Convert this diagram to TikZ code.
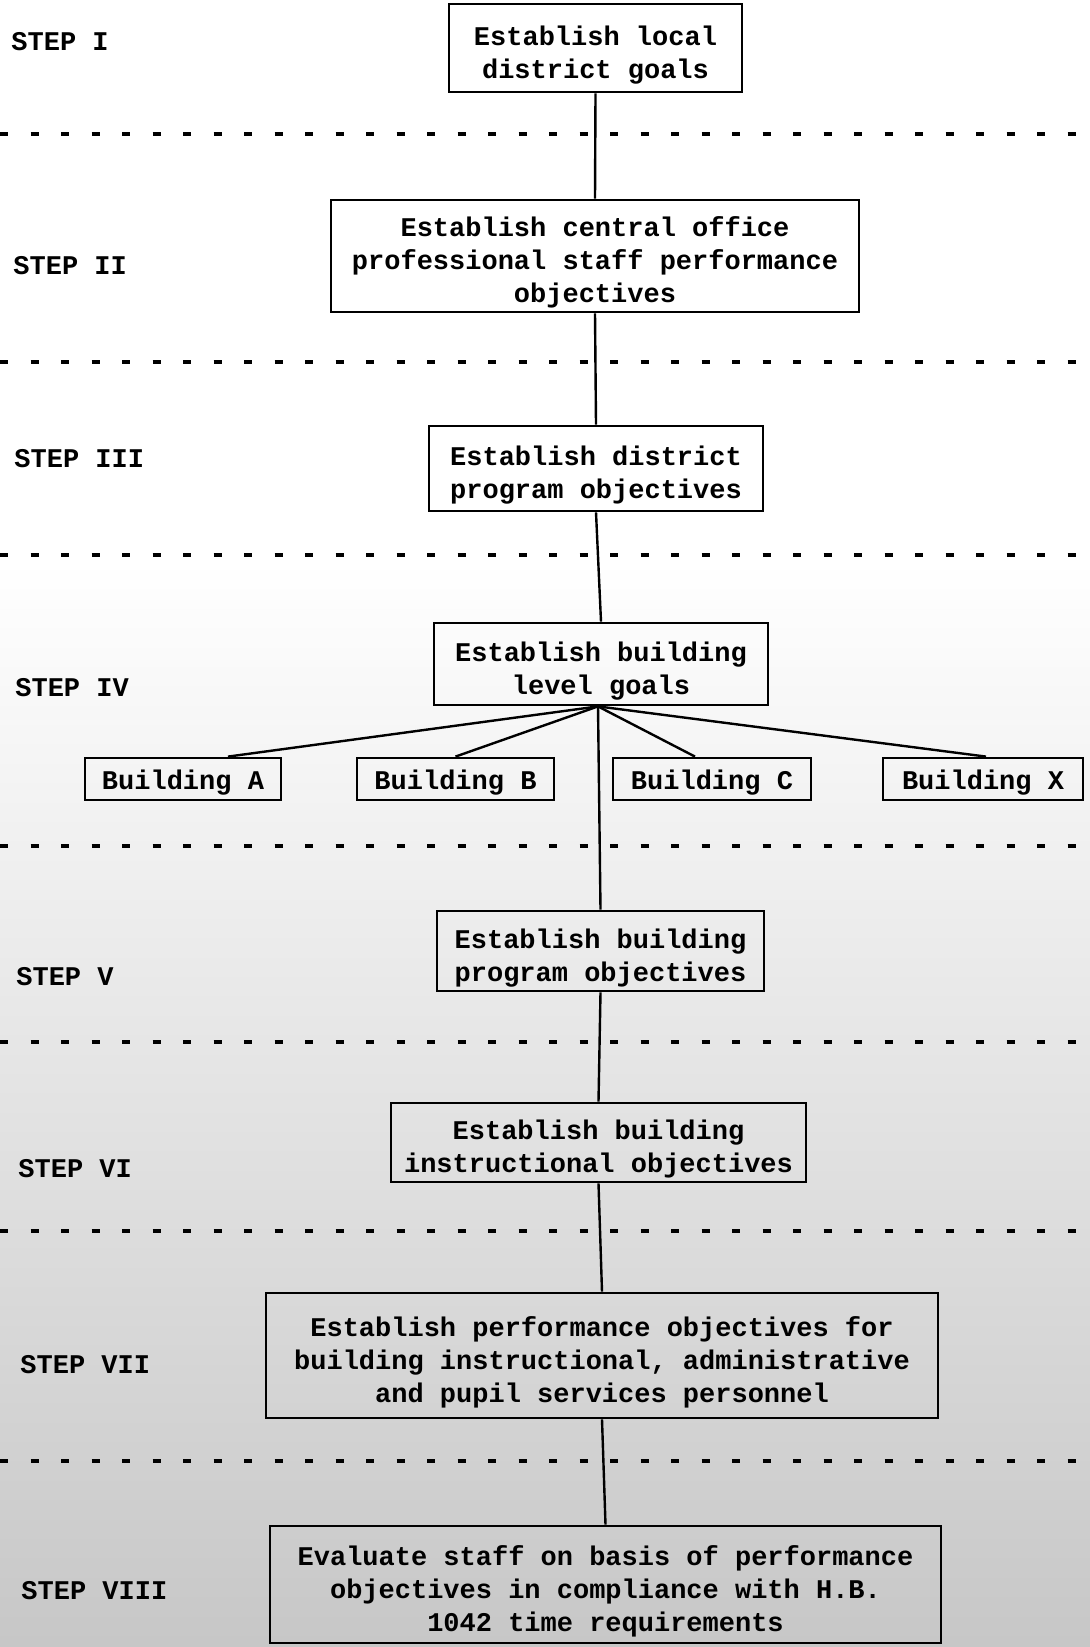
\documentclass[tikz,border=0pt]{standalone}
\usepackage{fontspec}
\setmainfont{Liberation Mono}
\newcommand\boxlift{\rule{0pt}{16.5pt}}
\begin{document}
\begin{tikzpicture}[x=0.5pt,y=-0.5pt,
  every node/.style={font=\fontsize{13.5pt}{16.5pt}\selectfont\bfseries},
  box/.style={draw=black,line width=1.4pt,align=center,inner sep=0pt},
  bbox/.style={box,execute at begin node={\rule{0pt}{13pt}}},
  steplabel/.style={anchor=west,inner sep=0pt},
  sep/.style={line width=1.9pt,dash pattern=on 4pt off 11.25pt},
  conn/.style={line width=1.2pt}]
\useasboundingbox (0,0) rectangle (1090,1647);
\fill[white] (0,0) rectangle (1090,1647);
\shade[top color=white,bottom color=black!22] (0,560) rectangle (1090,1647);

% separators
\foreach \yy in {134,362,555,846,1042,1231,1461}
  \draw[sep] (0,\yy) -- (1090,\yy);

% step labels
\node[steplabel] (l1) at (11,42) {STEP I};
\node[steplabel] (l2) at (13,266) {STEP II};
\node[steplabel] (l3) at (14,459) {STEP III};
\node[steplabel] (l4) at (15,688) {STEP IV};
\node[steplabel] (l5) at (16,977) {STEP V};
\node[steplabel] (l6) at (18,1169) {STEP VI};
\node[steplabel] (l7) at (20,1365) {STEP VII};
\node[steplabel] (l8) at (21,1591) {STEP VIII};

% boxes
\node[box,minimum width=146.5pt,minimum height=44pt] (s1) at (595.5,48)
  {\boxlift Establish local\\district goals};
\node[box,minimum width=264pt,minimum height=56pt] (s2) at (595,256)
  {\boxlift Establish central office\\professional staff performance\\objectives};
\node[box,minimum width=167pt,minimum height=42.5pt] (s3) at (596,468.5)
  {\boxlift Establish district\\program objectives};
\node[box,minimum width=167pt,minimum height=41pt] (s4) at (601,664)
  {\boxlift Establish building\\level goals};
\node[bbox,minimum width=98pt,minimum height=21pt] (bA) at (183,779) {Building A};
\node[bbox,minimum width=98.5pt,minimum height=21pt] (bB) at (455.5,779) {Building B};
\node[bbox,minimum width=99pt,minimum height=21pt] (bC) at (712,779) {Building C};
\node[bbox,minimum width=100pt,minimum height=21pt] (bX) at (983,779) {Building X};
\node[box,minimum width=163.5pt,minimum height=40pt] (s5) at (600.5,951)
  {\boxlift Establish building\\program objectives};
\node[box,minimum width=207.5pt,minimum height=39.5pt] (s6) at (598.5,1142.5)
  {\boxlift Establish building\\instructional objectives};
\node[box,minimum width=336pt,minimum height=62.5pt] (s7) at (602,1355.5)
  {\boxlift Establish performance objectives for\\building instructional, administrative\\and pupil services personnel};
\node[box,minimum width=335.5pt,minimum height=58.5pt] (s8) at (605.5,1584.5)
  {\boxlift Evaluate staff on basis of performance\\objectives in compliance with H.B.\\1042 time requirements};

% connectors
\draw[conn] (s1.south) -- (s2.north);
\draw[conn] (s2.south) -- (s3.north);
\draw[conn] (s3.south) -- (s4.north);
\draw[conn] ([xshift=-1.5pt]s4.south) -- (s5.north);
\draw[conn] (s5.south) -- (s6.north);
\draw[conn] (s6.south) -- (s7.north);
\draw[conn] (s7.south) -- (s8.north);
\draw[conn] ([xshift=-1.5pt]s4.south) -- ([xshift=22.5pt]bA.north);
\draw[conn] ([xshift=-1.5pt]s4.south) -- (bB.north);
\draw[conn] ([xshift=-1.5pt]s4.south) -- ([xshift=-8.5pt]bC.north);
\draw[conn] ([xshift=-1.5pt]s4.south) -- ([xshift=1.5pt]bX.north);
\end{tikzpicture}
\end{document}
